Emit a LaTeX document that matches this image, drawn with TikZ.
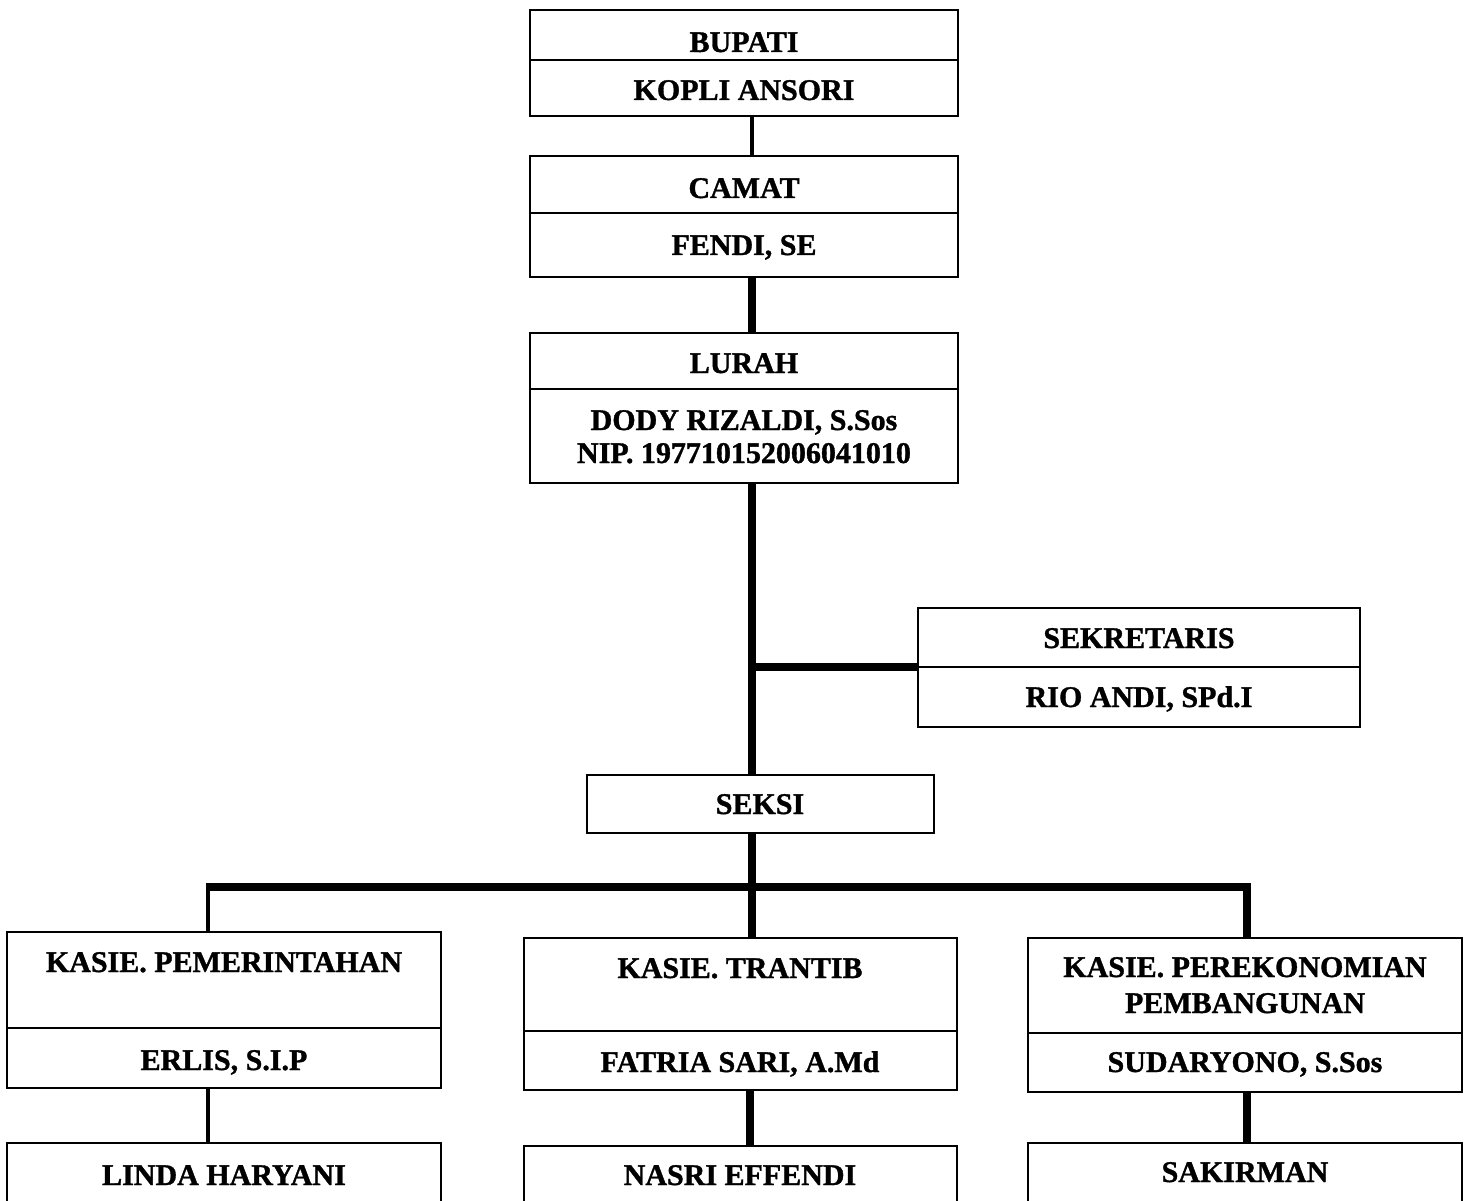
\documentclass[tikz,border=0pt]{standalone}
\usepackage{fontspec}
\setmainfont{Liberation Serif}[BoldFeatures={FakeBold=1.2}]
\begin{document}
\begin{tikzpicture}[x=1pt,y=-1pt,
  sect/.style={draw=black,line width=1.5pt,inner sep=0pt,outer sep=0pt,fill=white},
  lbl/.style={anchor=base,inner sep=0pt,font=\fontsize{30}{34}\selectfont\bfseries},
  thinlink/.style={line width=3.5pt},
  thicklink/.style={line width=8pt}]
\useasboundingbox (0,0) rectangle (1468,1201);
\clip (0,0) rectangle (1468,1201);
\fill[white] (0,0) rectangle (1468,1201);
\newcommand\sectbox[5]{%
  \node[sect,minimum width={(#4-#2)*1pt},minimum height={(#5-#3)*1pt}] (#1) at ({(#2+#4)/2},{(#3+#5)/2}) {};}
% coordinates for the spine and the bus
\coordinate (sp) at (752,0);
\coordinate (busL) at (208,887);
\coordinate (busR) at (1247,887);
\coordinate (dropM) at (750,0);
% boxes
\sectbox{bupt}{530}{10}{958}{60}
\sectbox{bupb}{530}{60}{958}{116}
\sectbox{camt}{530}{156}{958}{213}
\sectbox{camb}{530}{213}{958}{277}
\sectbox{lurt}{530}{333}{958}{389}
\sectbox{lurb}{530}{389}{958}{483}
\sectbox{sekt}{918}{608}{1360}{667}
\sectbox{sekb}{918}{667}{1360}{727}
\sectbox{seksi}{587}{775}{934}{833}
\sectbox{pemt}{7}{932}{441}{1028}
\sectbox{pemb}{7}{1028}{441}{1088}
\sectbox{trat}{524}{938}{957}{1031}
\sectbox{trab}{524}{1031}{957}{1090}
\sectbox{pert}{1028}{938}{1462}{1033}
\sectbox{perb}{1028}{1033}{1462}{1092}
\sectbox{linda}{7}{1143}{441}{1240}
\sectbox{nasri}{524}{1146}{957}{1240}
\sectbox{sakir}{1028}{1143}{1462}{1240}
% texts
\node[lbl] (tbup) at (744,52) {BUPATI};
\node[lbl] (tkop) at (744,100) {KOPLI ANSORI};
\node[lbl] (tcam) at (744,198) {CAMAT};
\node[lbl] (tfen) at (744,255) {FENDI, SE};
\node[lbl] (tlur) at (744,373) {LURAH};
\node[lbl] (tdod) at (744,430) {DODY RIZALDI, S.Sos};
\node[lbl] (tnip) at (744,463) {NIP. 197710152006041010};
\node[lbl] (tsek) at (1139,648) {SEKRETARIS};
\node[lbl] (trio) at (1139,707) {RIO ANDI, SPd.I};
\node[lbl] (tseksi) at (760,814) {SEKSI};
\node[lbl] (tpem) at (224,972) {KASIE. PEMERINTAHAN};
\node[lbl] (terl) at (224,1070) {ERLIS, S.I.P};
\node[lbl] (ttra) at (740,978) {KASIE. TRANTIB};
\node[lbl] (tfat) at (740,1072) {FATRIA SARI, A.Md};
\node[lbl] (tper) at (1245,977) {KASIE. PEREKONOMIAN};
\node[lbl] (tpemb) at (1245,1013) {PEMBANGUNAN};
\node[lbl] (tsud) at (1245,1072) {SUDARYONO, S.Sos};
\node[lbl] (tlin) at (224,1185) {LINDA HARYANI};
\node[lbl] (tnas) at (740,1185) {NASRI EFFENDI};
\node[lbl] (tsak) at (1245,1182) {SAKIRMAN};
% connectors
\draw[thinlink] (bupb.south -| sp) -- (camt.north -| sp);
\draw[thicklink] (camb.south -| sp) -- (lurt.north -| sp);
\draw[thicklink] (lurb.south -| sp) -- (seksi.north -| sp);
\draw[thicklink] (sp |- sekt.south west) -- (sekt.south west);
\draw[thicklink] (seksi.south -| sp) -- (trat.north -| sp);
\draw[thicklink] ([xshift=-1.75pt]busL) -- (busR) -- (pert.north -| busR);
\draw[thinlink] (busL) -- (pemt.north -| busL);
\draw[thinlink] (pemb.south -| busL) -- (linda.north -| busL);
\draw[thicklink] (trab.south -| dropM) -- (nasri.north -| dropM);
\draw[thicklink] (perb.south -| busR) -- (sakir.north -| busR);
\end{tikzpicture}
\end{document}
